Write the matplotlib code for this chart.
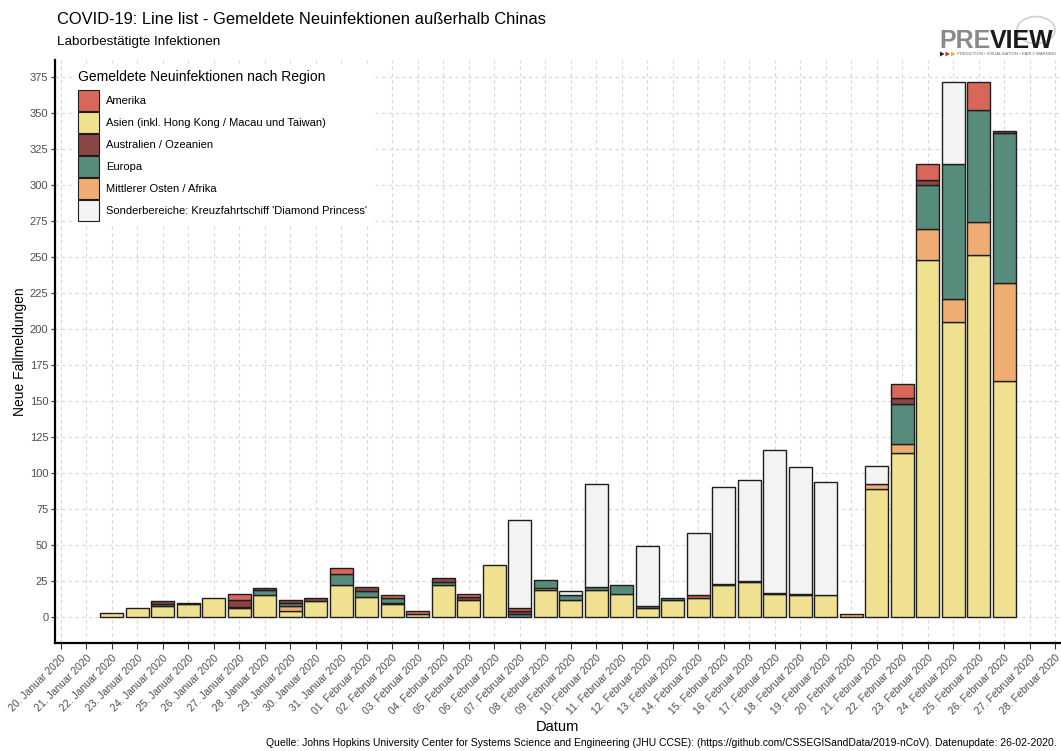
import numpy as np
import pandas as pd
import matplotlib
matplotlib.use("Agg")
import matplotlib.pyplot as plt
from matplotlib.patches import Patch, Circle, Polygon

plt.rcParams['font.family'] = ['Liberation Sans', 'DejaVu Sans']

# ---- data ----
dates = pd.date_range("2020-01-22", "2020-02-26", freq="D")

asien = [3, 6, 8, 9, 13, 6, 15, 4, 11, 22, 14, 9, 2, 22, 12, 36, 0, 19, 12, 19, 16, 6, 12, 13,
         22, 24, 16, 15, 15, 0, 89, 114, 248, 205, 251, 164]
mittlerer_osten = [0, 0, 0, 0, 0, 0, 0, 4, 0, 0, 0, 1, 0, 0, 0, 0, 0, 1, 0, 0, 0, 0, 0, 0,
                   1, 0, 0, 0, 0, 2, 3, 6, 21, 16, 23, 68]
europa = [0, 0, 1, 1, 0, 1, 4, 2, 0, 8, 4, 3, 0, 2, 0, 0, 2, 6, 3, 2, 6, 2, 1, 0,
          0, 1, 1, 0, 0, 0, 0, 28, 31, 93, 78, 104]
australien = [0, 0, 2, 0, 0, 5, 1, 2, 2, 0, 3, 0, 0, 3, 2, 0, 2, 0, 0, 0, 0, 0, 0, 0,
              0, 0, 0, 0, 0, 0, 0, 4, 3, 0, 0, 1]
amerika = [0, 0, 0, 0, 0, 4, 0, 0, 0, 4, 0, 2, 2, 0, 2, 0, 2, 0, 0, 0, 0, 0, 0, 2,
           0, 0, 0, 1, 0, 0, 0, 10, 11, 0, 19, 0]
sonder = [0, 0, 0, 0, 0, 0, 0, 0, 0, 0, 0, 0, 0, 0, 0, 0, 61, 0, 3, 71, 0, 41, 0, 43,
          67, 70, 99, 88, 79, 0, 13, 0, 0, 57, 0, 0]

tick_dates = pd.date_range("2020-01-20", "2020-02-28", freq="D")
monate = {1: "Januar", 2: "Februar"}
tick_labels = ["%02d. %s %d" % (d.day, monate[d.month], d.year) if d.month == 2
               else "%d. %s %d" % (d.day, monate[d.month], d.year) for d in tick_dates]

# stacking order bottom -> top, legend order alphabetical
stack = [
    ("Asien (inkl. Hong Kong / Macau und Taiwan)", asien, "#f0e191"),
    ("Mittlerer Osten / Afrika", mittlerer_osten, "#f0ad73"),
    ("Europa", europa, "#578b7c"),
    ("Australien / Ozeanien", australien, "#8b4545"),
    ("Amerika", amerika, "#d9665a"),
    ("Sonderbereiche: Kreuzfahrtschiff 'Diamond Princess'", sonder, "#f3f3f3"),
]
legend_order = ["Amerika", "Asien (inkl. Hong Kong / Macau und Taiwan)", "Australien / Ozeanien",
                "Europa", "Mittlerer Osten / Afrika",
                "Sonderbereiche: Kreuzfahrtschiff 'Diamond Princess'"]

W, H = 1061, 751
fig = plt.figure(figsize=(W / 100, H / 100), dpi=100)
ax = fig.add_axes([54.5 / W, (H - 642.7) / H, (1060 - 54.5) / W, (642.7 - 60) / H])

x0 = tick_dates[0]
xs = np.array([(d - x0).days for d in dates], dtype=float)
bottom = np.zeros(len(dates))
colors = {}
for name, vals, col in stack:
    v = np.array(vals, dtype=float)
    m = v > 0
    ax.bar(xs[m], v[m], bottom=bottom[m], width=0.9, color=col, edgecolor="#1e1e1e",
           linewidth=1.0, zorder=3)
    bottom += v
    colors[name] = col

# axes styling
xt = np.arange(len(tick_dates))
ax.set_xticks(xt)
ax.set_xticklabels(tick_labels, rotation=45, ha="right", rotation_mode="anchor",
                   fontsize=7.5, color="#4d4d4d")
ax.set_yticks(np.arange(0, 376, 25))
ax.tick_params(axis="y", labelsize=8, labelcolor="#4d4d4d", length=3, pad=1.5, color="#333333")
ax.tick_params(axis="x", length=4, color="#333333")
ax.set_xlim(-0.25, 39.18)
ax.set_ylim(-17.8, 386.5)
ax.grid(True, color="#d6d6d6", linestyle=(0, (3, 3)), linewidth=0.8, zorder=0)
ax.set_axisbelow(True)
for s in ["top", "right"]:
    ax.spines[s].set_visible(False)
for s in ["left", "bottom"]:
    ax.spines[s].set_linewidth(1.6)
    ax.spines[s].set_color("black")

ax.set_xlabel("Datum", fontsize=10.5, labelpad=2)
ax.set_ylabel("Neue Fallmeldungen", fontsize=10, labelpad=2)

handles = [Patch(facecolor=colors[n], edgecolor="#1e1e1e", linewidth=0.8, label=n)
           for n in legend_order]
leg = ax.legend(handles=handles, title="Gemeldete Neuinfektionen nach Region",
                loc="upper left", bbox_to_anchor=(0.013, 1.0), fontsize=8,
                title_fontsize=10, frameon=True, facecolor="white", edgecolor="white",
                framealpha=1, handlelength=1.9, handleheight=2.55, labelspacing=0.08,
                handletextpad=0.7, borderpad=0.4, alignment="left", fancybox=False)
leg._legend_box.sep = 4  # a bit more room under the legend title
leg.set_zorder(5)

# titles
fig.text(57 / W, 1 - 20 / H, "COVID-19: Line list - Gemeldete Neuinfektionen außerhalb Chinas",
         fontsize=11.9, va="center", ha="left")
fig.text(57 / W, 1 - 42 / H, "Laborbestätigte Infektionen", fontsize=9.7, va="center", ha="left")
fig.text(1057 / W, 1 - 743 / H,
         "Quelle: Johns Hopkins University Center for Systems Science and Engineering (JHU CCSE): "
         "(https://github.com/CSSEGISandData/2019-nCoV). Datenupdate: 26-02-2020.",
         fontsize=7.5, ha="right", va="center")

# logo
globe = Circle((1036 / W, 1 - 30 / H), 19 / W, transform=fig.transFigure, facecolor="none",
               edgecolor="#cfcfcf", linewidth=1.2, zorder=0)
fig.add_artist(globe)
t1 = fig.text(939 / W, 1 - 48 / H, "PRE", fontsize=18, fontweight="bold", color="#8a8a8a",
              va="baseline")
ax.annotate("VIEW", xy=(1, 0), xycoords=t1, fontsize=18, fontweight="bold", color="#1a1a1a",
            va="bottom", annotation_clip=False)
fig.text(957 / W, 1 - 54 / H, "PREDICTION • VISUALISATION • EARLY WARNING", fontsize=3.0,
         color="#666666", va="center")
for i, c in enumerate(["#222222", "#d9332b", "#e8b800"]):
    px = 940 + i * 5.5
    tri = Polygon([((px) / W, 1 - 51.5 / H), ((px) / W, 1 - 56.5 / H), ((px + 4.5) / W, 1 - 54 / H)],
                  closed=True, transform=fig.transFigure, facecolor=c, edgecolor="none")
    fig.add_artist(tri)

fig.savefig("out.png", dpi=100)
